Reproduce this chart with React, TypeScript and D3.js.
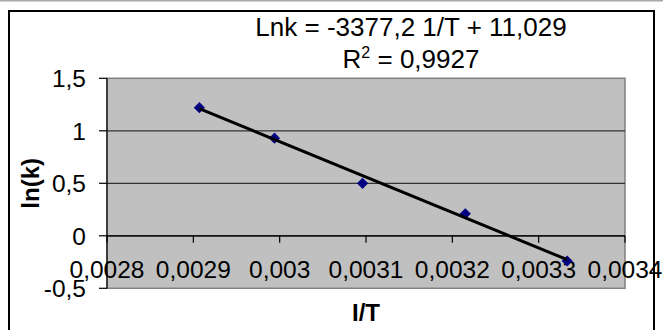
import * as d3 from "d3";

const invT = [0.002907, 0.002994, 0.003096, 0.003215, 0.003333];
const lnK = [1.22, 0.93, 0.5, 0.21, -0.24];

const xTicks = [0.0028, 0.0029, 0.003, 0.0031, 0.0032, 0.0033, 0.0034];
const yTicks = [-0.5, 0, 0.5, 1, 1.5];

const slope = -3377.2;
const intercept = 11.029;
const equationLabel = "Lnk = -3377,2 1/T + 11,029";
const r2Value = "0,9927";

const width = 663;
const height = 330;
const plot = { left: 107, right: 625, top: 78.3, bottom: 288.3 };
const font = "'Liberation Sans', Arial, sans-serif";

const locale = d3.formatLocale({ decimal: ",", thousands: " ", grouping: [3], currency: ["", ""], minus: "-" });
const fmt = locale.format("");

export default function App() {
  const x = d3.scaleLinear().domain([0.0028, 0.0034]).range([plot.left, plot.right]);
  const y = d3.scaleLinear().domain([-0.5, 1.5]).range([plot.bottom, plot.top]);

  const x0 = invT[0];
  const x1 = invT[invT.length - 1];
  const trend = d3.line<number>()
    .x((d) => x(d))
    .y((d) => y(slope * d + intercept))([x0, x1]);

  const diamond = d3.symbol().type(d3.symbolDiamond2).size(80)();

  return (
    <svg
      width={width}
      height={height}
      viewBox={`0 0 ${width} ${height}`}
      style={{ position: "fixed", left: 0, top: 0, background: "#fff" }}
    >
      <rect x={0} y={0} width={width} height={1.5} fill="#a8a8a8" />
      <rect x={9} y={11} width={645} height={340} fill="#fff" stroke="#000" strokeWidth={2} />

      <text x={411} y={36} textAnchor="middle" fontFamily={font} fontSize={26} fill="#000">
        {equationLabel}
      </text>
      <text x={411} y={68} textAnchor="middle" fontFamily={font} fontSize={26} fill="#000">
        R<tspan dy={-10} fontSize={16}>2</tspan>
        <tspan dy={10}> = {r2Value}</tspan>
      </text>

      <rect
        x={plot.left}
        y={plot.top}
        width={plot.right - plot.left}
        height={plot.bottom - plot.top}
        fill="#c0c0c0"
        stroke="#808080"
        strokeWidth={1.5}
      />

      {yTicks.map((t) => (
        <g key={t}>
          {t !== -0.5 && t !== 1.5 ? (
            <line x1={plot.left} x2={plot.right} y1={y(t)} y2={y(t)} stroke="#333" strokeWidth={1.2} />
          ) : null}
          <line x1={plot.left - 8} x2={plot.left} y1={y(t)} y2={y(t)} stroke="#000" strokeWidth={1.2} />
          <text
            x={86}
            y={y(t)}
            dy="0.36em"
            textAnchor="end"
            fontFamily={font}
            fontSize={24.5}
            fill="#000"
          >
            {fmt(t)}
          </text>
        </g>
      ))}

      <line x1={plot.left} x2={plot.left} y1={plot.top} y2={plot.bottom} stroke="#000" strokeWidth={1.2} />
      <line x1={plot.left} x2={plot.right} y1={y(0)} y2={y(0)} stroke="#000" strokeWidth={1.2} />

      {xTicks.map((t) => (
        <g key={t}>
          <line x1={x(t)} x2={x(t)} y1={y(0)} y2={y(0) + 7} stroke="#000" strokeWidth={1.2} />
          <text x={x(t)} y={278} textAnchor="middle" fontFamily={font} fontSize={24.5} fill="#000">
            {fmt(t)}
          </text>
        </g>
      ))}

      {invT.map((v, i) => (
        <path key={v} d={diamond ?? ""} transform={`translate(${x(v)}, ${y(lnK[i])})`} fill="#000080" />
      ))}

      <path d={trend ?? ""} fill="none" stroke="#000" strokeWidth={3} />

      <text
        transform={`translate(39, ${(plot.top + plot.bottom) / 2}) rotate(-90)`}
        textAnchor="middle"
        fontFamily={font}
        fontSize={24}
        fontWeight="bold"
        fill="#000"
      >
        ln(k)
      </text>
      <text x={(plot.left + plot.right) / 2} y={321} textAnchor="middle" fontFamily={font} fontSize={24} fontWeight="bold" fill="#000">
        I/T
      </text>
    </svg>
  );
}
